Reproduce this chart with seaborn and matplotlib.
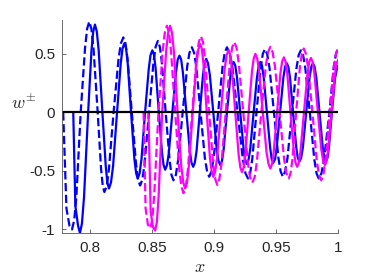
import numpy as np
import pandas as pd
import seaborn as sns
import matplotlib
matplotlib.use("Agg")
import matplotlib.pyplot as plt

# blue solid curve (one row per lobe)
bs_x = [0.7865, 0.7882, 0.7904, 0.7919, 0.7935, 0.7952,
        0.7985, 0.8012, 0.8026, 0.8040, 0.8055, 0.8070,
        0.8100, 0.8127, 0.8140, 0.8153, 0.8169, 0.8186,
        0.8218, 0.8248, 0.8262, 0.8277, 0.8291, 0.8304,
        0.8331, 0.8358, 0.8372, 0.8385, 0.8400, 0.8415,
        0.8444, 0.8474, 0.8488, 0.8503, 0.8516, 0.8529,
        0.8555, 0.8581, 0.8593, 0.8606, 0.8621, 0.8635,
        0.8664, 0.8693, 0.8707, 0.8721, 0.8735, 0.8749,
        0.8777, 0.8805, 0.8818, 0.8832, 0.8845, 0.8859,
        0.8885, 0.8911, 0.8924, 0.8937, 0.8951, 0.8966,
        0.8994, 0.9022, 0.9036, 0.9050, 0.9064, 0.9077,
        0.9104, 0.9131, 0.9145, 0.9158, 0.9171, 0.9185,
        0.9211, 0.9238, 0.9251, 0.9264, 0.9278, 0.9292,
        0.9319, 0.9346, 0.9360, 0.9373, 0.9386, 0.9400,
        0.9426, 0.9452, 0.9465, 0.9478, 0.9492, 0.9505,
        0.9532, 0.9559, 0.9573, 0.9586, 0.9599, 0.9612,
        0.9637, 0.9663, 0.9675, 0.9688, 0.9702, 0.9716,
        0.9743, 0.9770, 0.9784, 0.9797, 0.9810, 0.9824,
        0.9850, 0.9876, 0.9889, 0.9902, 0.9914, 0.9926,
        0.9950, 0.9975, 0.9988, 1.0000]
bs_y = [0, -0.80, -0.97, -1.03, -0.95, -0.72,
        0, 0.53, 0.69, 0.75, 0.69, 0.53,
        0, -0.46, -0.60, -0.65, -0.60, -0.46,
        0, 0.42, 0.545, 0.59, 0.545, 0.42,
        0, -0.40, -0.52, -0.565, -0.52, -0.40,
        0, 0.375, 0.49, 0.53, 0.49, 0.375,
        0, -0.35, -0.45, -0.49, -0.45, -0.35,
        0, 0.34, 0.45, 0.485, 0.45, 0.34,
        0, -0.33, -0.43, -0.465, -0.43, -0.33,
        0, 0.32, 0.42, 0.457, 0.42, 0.32,
        0, -0.32, -0.415, -0.45, -0.415, -0.32,
        0, 0.30, 0.40, 0.43, 0.40, 0.30,
        0, -0.31, -0.405, -0.44, -0.405, -0.31,
        0, 0.30, 0.40, 0.43, 0.40, 0.30,
        0, -0.30, -0.40, -0.43, -0.40, -0.30,
        0, 0.30, 0.39, 0.42, 0.39, 0.30,
        0, -0.30, -0.39, -0.42, -0.39, -0.30,
        0, 0.30, 0.39, 0.42, 0.39, 0.30,
        0, -0.30, -0.39, -0.42, -0.39, -0.30,
        0, 0.29, 0.36, 0.40]

# blue dashed curve
bd_x = [0.7784, 0.7810, 0.7835, 0.7855, 0.7873, 0.7890,
        0.7925, 0.7960, 0.7977, 0.7994, 0.8011, 0.8028,
        0.8062, 0.8089, 0.8103, 0.8116, 0.8135, 0.8153,
        0.8190, 0.8230, 0.8249, 0.8269, 0.8286, 0.8303,
        0.8337, 0.8371, 0.8387, 0.8404, 0.8422, 0.8440,
        0.8476, 0.8512, 0.8529, 0.8547, 0.8563, 0.8579,
        0.8610, 0.8642, 0.8657, 0.8673, 0.8692, 0.8710,
        0.8747, 0.8784, 0.8802, 0.8821, 0.8839, 0.8856,
        0.8891, 0.8926, 0.8944, 0.8961, 0.8979, 0.8997,
        0.9033, 0.9069, 0.9086, 0.9104, 0.9125, 0.9147,
        0.9189, 0.9232, 0.9253, 0.9274, 0.9291, 0.9308,
        0.9342, 0.9376, 0.9393, 0.9410, 0.9428, 0.9447,
        0.9483, 0.9519, 0.9537, 0.9555, 0.9573, 0.9592,
        0.9628, 0.9664, 0.9682, 0.9700, 0.9718, 0.9736,
        0.9772, 0.9808, 0.9826, 0.9844, 0.9866, 0.9887,
        0.9930, 0.9965, 0.9983, 1.0000]
bd_y = [0, -0.82, -0.97, -1.0, -0.92, -0.72,
        0, 0.55, 0.715, 0.775, 0.715, 0.55,
        0, -0.48, -0.63, -0.68, -0.63, -0.48,
        0, 0.455, 0.59, 0.64, 0.59, 0.455,
        0, -0.44, -0.575, -0.625, -0.575, -0.44,
        0, 0.43, 0.56, 0.61, 0.56, 0.43,
        0, -0.41, -0.535, -0.58, -0.535, -0.41,
        0, 0.395, 0.51, 0.556, 0.51, 0.395,
        0, -0.39, -0.505, -0.55, -0.505, -0.39,
        0, 0.395, 0.51, 0.556, 0.51, 0.395,
        0, -0.40, -0.52, -0.565, -0.52, -0.40,
        0, 0.38, 0.50, 0.54, 0.50, 0.38,
        0, -0.39, -0.505, -0.55, -0.505, -0.39,
        0, 0.375, 0.49, 0.53, 0.49, 0.375,
        0, -0.40, -0.52, -0.565, -0.52, -0.40,
        0, 0.39, 0.50, 0.55]

# magenta solid curve
ms_x = [0.8471, 0.8489, 0.8508, 0.8525, 0.8539, 0.8553,
        0.8582, 0.8614, 0.8630, 0.8646, 0.8661, 0.8676,
        0.8706, 0.8736, 0.8752, 0.8767, 0.8782, 0.8797,
        0.8828, 0.8858, 0.8874, 0.8889, 0.8902, 0.8915,
        0.8941, 0.8967, 0.8981, 0.8994, 0.9009, 0.9024,
        0.9055, 0.9086, 0.9102, 0.9117, 0.9131, 0.9144,
        0.9171, 0.9198, 0.9212, 0.9225, 0.9239, 0.9252,
        0.9279, 0.9306, 0.9320, 0.9333, 0.9348, 0.9363,
        0.9393, 0.9423, 0.9439, 0.9454, 0.9468, 0.9481,
        0.9508, 0.9535, 0.9549, 0.9563, 0.9576, 0.9590,
        0.9616, 0.9643, 0.9657, 0.9670, 0.9684, 0.9697,
        0.9725, 0.9753, 0.9767, 0.9781, 0.9795, 0.9809,
        0.9837, 0.9865, 0.9880, 0.9894, 0.9907, 0.9920,
        0.9947, 0.9974, 0.9987, 1.0000]
ms_y = [0, -0.85, -0.98, -1.01, -0.94, -0.72,
        0, 0.525, 0.68, 0.74, 0.68, 0.525,
        0, -0.46, -0.60, -0.65, -0.60, -0.46,
        0, 0.415, 0.54, 0.585, 0.54, 0.415,
        0, -0.39, -0.505, -0.55, -0.505, -0.39,
        0, 0.375, 0.49, 0.53, 0.49, 0.375,
        0, -0.36, -0.47, -0.51, -0.47, -0.36,
        0, 0.355, 0.46, 0.50, 0.46, 0.355,
        0, -0.34, -0.44, -0.48, -0.44, -0.34,
        0, 0.335, 0.435, 0.47, 0.435, 0.335,
        0, -0.33, -0.43, -0.465, -0.43, -0.33,
        0, 0.33, 0.43, 0.465, 0.43, 0.33,
        0, -0.32, -0.415, -0.45, -0.415, -0.32,
        0, 0.32, 0.415, 0.45]

# magenta dashed curve
md_x = [0.8432, 0.8448, 0.8467, 0.8485, 0.8502, 0.8518,
        0.8552, 0.8586, 0.8603, 0.8620, 0.8637, 0.8653,
        0.8687, 0.8720, 0.8737, 0.8754, 0.8772, 0.8789,
        0.8824, 0.8859, 0.8877, 0.8894, 0.8911, 0.8927,
        0.8960, 0.8993, 0.9010, 0.9026, 0.9043, 0.9060,
        0.9094, 0.9128, 0.9146, 0.9163, 0.9181, 0.9199,
        0.9236, 0.9272, 0.9291, 0.9309, 0.9327, 0.9345,
        0.9381, 0.9417, 0.9436, 0.9454, 0.9472, 0.9491,
        0.9528, 0.9565, 0.9583, 0.9602, 0.9617, 0.9632,
        0.9662, 0.9692, 0.9708, 0.9723, 0.9741, 0.9758,
        0.9793, 0.9828, 0.9846, 0.9864, 0.9881, 0.9898,
        0.9932, 0.9966, 0.9983, 1.0000]
md_y = [0, -0.82, -0.96, -0.99, -0.92, -0.70,
        0, 0.525, 0.68, 0.74, 0.68, 0.525,
        0, -0.49, -0.635, -0.69, -0.635, -0.49,
        0, 0.46, 0.60, 0.65, 0.60, 0.46,
        0, -0.44, -0.57, -0.62, -0.57, -0.44,
        0, 0.425, 0.555, 0.60, 0.555, 0.425,
        0, -0.425, -0.555, -0.60, -0.555, -0.425,
        0, 0.395, 0.515, 0.56, 0.515, 0.395,
        0, -0.40, -0.52, -0.565, -0.52, -0.40,
        0, 0.385, 0.50, 0.545, 0.50, 0.385,
        0, -0.41, -0.535, -0.58, -0.535, -0.41,
        0, 0.39, 0.50, 0.55]

x_ticks = [0.8, 0.85, 0.9, 0.95, 1.0]
x_labels = ["0.8", "0.85", "0.9", "0.95", "1"]
y_ticks = [-1, -0.5, 0, 0.5]
y_labels = ["-1", "-0.5", "0", "0.5"]

sns.set_style("white")
plt.rcParams["font.family"] = ["Liberation Sans", "DejaVu Sans"]
plt.rcParams["mathtext.fontset"] = "cm"

fig = plt.figure(figsize=(3.74, 2.8), dpi=100)
ax = fig.add_axes([0.166, 0.168, 0.738, 0.761])

sns.lineplot(x=bs_x, y=bs_y, ax=ax, color="#0000ff", linewidth=1.6, sort=False, estimator=None)
sns.lineplot(x=bd_x, y=bd_y, ax=ax, color="#0000ff", linewidth=1.6, linestyle="--", sort=False, estimator=None)
sns.lineplot(x=ms_x, y=ms_y, ax=ax, color="#ff00ff", linewidth=1.6, sort=False, estimator=None)
sns.lineplot(x=md_x, y=md_y, ax=ax, color="#ff00ff", linewidth=1.6, linestyle="--", sort=False, estimator=None)
ax.axhline(0, color="black", linewidth=1.6)

ax.set_xlim(0.7775, 1.0)
ax.set_ylim(-1.03, 0.79)
ax.set_xticks(x_ticks)
ax.set_xticklabels(x_labels)
ax.set_yticks(y_ticks)
ax.set_yticklabels(y_labels)

sns.despine(ax=ax)
for s in ["left", "bottom"]:
    ax.spines[s].set_color("#555555")
    ax.spines[s].set_linewidth(0.6)
ax.tick_params(direction="in", length=3, width=0.6, color="#555555",
               labelsize=11, labelcolor="#262626", left=True, bottom=True)
ax.tick_params(axis="x", pad=6)
ax.tick_params(axis="y", pad=5)

ax.set_xlabel("$x$", fontsize=13, color="#262626", labelpad=3)
ax.set_ylabel("$w^{\\pm}$", fontsize=13, color="#262626", rotation=0)
ax.yaxis.set_label_coords(-0.14, 0.565)

fig.savefig("out.png", dpi=100)
